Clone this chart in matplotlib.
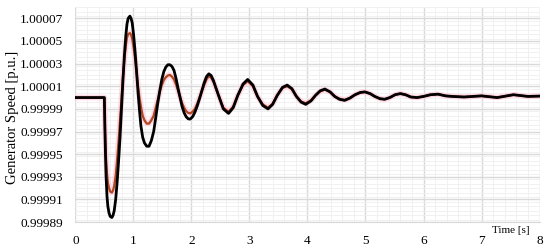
import numpy as np
from matplotlib import pyplot as plt
from matplotlib.ticker import MultipleLocator

# time [s] and speed deviation from 1 p.u. (in units of 1e-5 p.u.)
time = [0, 0.5, 0.505, 0.51, 0.52, 0.53, 0.545, 0.56, 0.58, 0.60, 0.63, 0.65, 0.67,
        0.695, 0.72, 0.745, 0.77, 0.795, 0.82, 0.845, 0.87, 0.89, 0.91, 0.94, 0.96,
        0.98, 1.005, 1.03, 1.055, 1.08, 1.105, 1.13, 1.16, 1.19, 1.23, 1.27, 1.31,
        1.35, 1.385, 1.42, 1.455, 1.49, 1.525, 1.56, 1.595, 1.63, 1.665, 1.70, 1.735,
        1.77, 1.805, 1.84, 1.875, 1.91, 1.945, 1.98, 2.02, 2.06, 2.10, 2.14, 2.18,
        2.22, 2.26, 2.30, 2.34, 2.38, 2.46, 2.55,
        2.64, 2.72, 2.80, 2.89, 2.97, 3.06, 3.14, 3.23, 3.32, 3.40, 3.48, 3.57,
        3.65, 3.73, 3.81, 3.89, 3.97, 4.06, 4.14, 4.22, 4.30, 4.39, 4.47, 4.55,
        4.64, 4.73, 4.82, 4.91, 4.99, 5.08, 5.16, 5.25, 5.33, 5.42, 5.51, 5.60,
        5.69, 5.78, 5.89, 6.0, 6.12, 6.25, 6.38, 6.5, 6.7, 7.0, 7.27, 7.55, 7.8, 8.0]

black_dev = [0, 0, -1.5, -3.0, -5.2, -7.0, -8.7, -9.6, -10.2, -10.5, -10.6, -10.4, -10.0,
             -9.0, -7.5, -5.6, -3.5, -1.0, 1.5, 3.7, 5.5, 6.5, 7.0, 7.2, 7.0,
             6.6, 5.5, 4.0, 2.3, 0.5, -1.1, -2.5, -3.5, -4.0, -4.3, -4.3, -3.8,
             -3.0, -1.8, -0.5, 0.6, 1.6, 2.3, 2.7, 2.9, 2.9, 2.75, 2.4, 1.7,
             0.8, 0.0, -0.8, -1.35, -1.7, -1.88, -1.9, -1.7, -1.3, -0.75, -0.1, 0.6,
             1.3, 1.85, 2.1, 1.95, 1.5, 0.3, -1.0,
             -1.4, -0.9, 0.2, 1.2, 1.6, 1.1, 0.1, -0.7, -1.0, -0.6, 0.2, 0.9,
             1.1, 0.8, 0.1, -0.4, -0.6, -0.3, 0.2, 0.6, 0.75, 0.5, 0.1, -0.15,
             -0.25, -0.05, 0.25, 0.45, 0.5, 0.35, 0.1, -0.1, -0.15, 0.0, 0.25, 0.35,
             0.25, 0.05, 0.0, 0.1, 0.25, 0.3, 0.15, 0.1, 0.05, 0.15, 0.0, 0.25, 0.1, 0.13]

red_dev = [0, 0, -1.2, -2.5, -4.2, -5.5, -6.7, -7.5, -8.0, -8.3, -8.4, -8.2, -7.8,
           -6.9, -5.5, -3.9, -2.0, -0.1, 1.8, 3.4, 4.6, 5.3, 5.6, 5.7, 5.55,
           5.2, 4.4, 3.4, 2.2, 1.0, 0.0, -0.8, -1.6, -2.0, -2.3, -2.3, -2.0,
           -1.6, -0.9, -0.2, 0.5, 1.1, 1.55, 1.8, 1.95, 2.0, 1.85, 1.6, 1.15,
           0.6, 0.05, -0.5, -0.9, -1.2, -1.35, -1.4, -1.25, -1.0, -0.55, 0.0, 0.55,
           1.1, 1.6, 1.9, 1.75, 1.4, 0.3, -0.9,
           -1.25, -0.8, 0.2, 1.1, 1.45, 1.0, 0.1, -0.6, -0.9, -0.55, 0.2, 0.85,
           1.0, 0.75, 0.1, -0.35, -0.5, -0.25, 0.2, 0.55, 0.7, 0.5, 0.1, -0.1,
           -0.2, -0.05, 0.25, 0.45, 0.5, 0.35, 0.1, -0.1, -0.15, 0.0, 0.25, 0.35,
           0.25, 0.05, 0.0, 0.1, 0.25, 0.3, 0.15, 0.1, 0.05, 0.15, 0.0, 0.25, 0.1, 0.13]

yticks = [0.99989, 0.99991, 0.99993, 0.99995, 0.99997, 0.99999,
          1.00001, 1.00003, 1.00005, 1.00007]
xticks = [0, 1, 2, 3, 4, 5, 6, 7, 8]

black = 1 + np.array(black_dev) * 1e-5
red = 1 + np.array(red_dev) * 1e-5

plt.rcParams['font.family'] = ['Liberation Serif', 'DejaVu Serif']

fig = plt.figure(figsize=(5.5, 2.52), dpi=100)
ax = fig.add_axes([0.137, 0.119, 0.844, 0.853])

ax.plot(time, red, color='#ffc8dc', lw=4.0, alpha=0.7, solid_joinstyle='round')
ax.plot(time, red, color='#b0471f', lw=1.6, solid_joinstyle='round')
ax.plot(time, black, color='black', lw=2.0, solid_joinstyle='round')

ax.set_xlim(0, 8)
ax.set_ylim(0.99989, 1.00008)
ax.set_xticks(xticks)
ax.set_xticklabels([str(x) for x in xticks])
ax.set_yticks(yticks)
ax.set_yticklabels(['%.5f' % v for v in yticks])
ax.xaxis.set_minor_locator(MultipleLocator(0.2))
ax.yaxis.set_minor_locator(MultipleLocator(0.000004))

ax.grid(which='major', color='#d9d9d9', lw=1.0)
ax.grid(which='minor', color='#efefef', lw=0.6)
ax.set_axisbelow(True)
for s in ['top', 'right', 'left']:
    ax.spines[s].set_visible(False)
ax.spines['bottom'].set_color('#d9d9d9')
ax.tick_params(which='both', length=0, labelsize=9.5)
ax.tick_params(axis='x', pad=9)
ax.tick_params(axis='y', pad=9)

fig.text(0.022, 0.536, 'Generator Speed [p.u.]', fontsize=10.5, rotation=90,
         ha='center', va='center')
fig.text(0.895, 0.075, 'Time [s]', fontsize=8, ha='left', va='baseline')

plt.savefig('out.png')
